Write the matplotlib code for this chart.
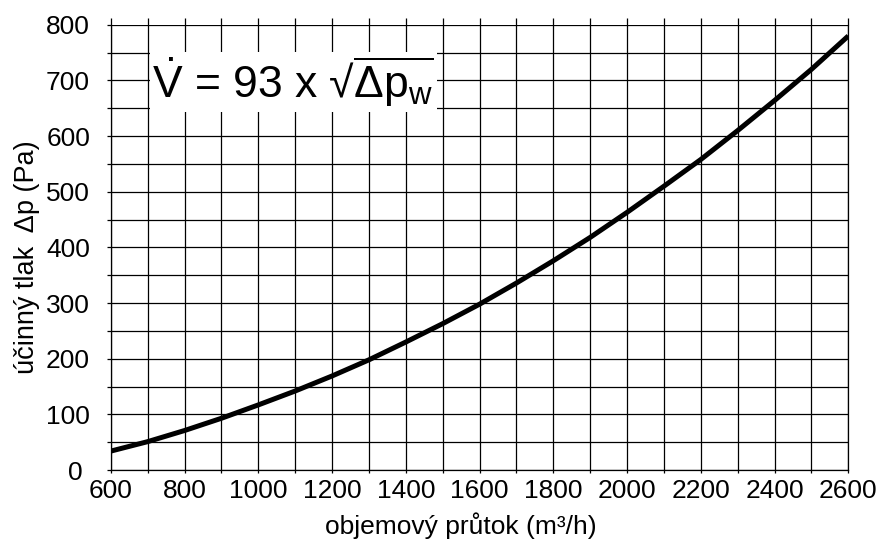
import matplotlib
matplotlib.use("Agg")
import matplotlib.pyplot as plt
from matplotlib.ticker import MultipleLocator

# průtok (m3/h) a odečtený účinný tlak (Pa)
prutok = [600, 700, 800, 900, 1000, 1100, 1200, 1300, 1400, 1500, 1600,
          1700, 1800, 1900, 2000, 2100, 2200, 2300, 2400, 2500, 2600]
tlak = [34, 51, 71, 93, 117, 142, 169, 198, 230, 263, 298,
        336, 376, 418, 463, 510, 558, 610, 664, 720, 780]

x_ticks = [600, 800, 1000, 1200, 1400, 1600, 1800, 2000, 2200, 2400, 2600]
y_ticks = [0, 100, 200, 300, 400, 500, 600, 700, 800]
y_labels = ['0 ', '100', '200', '300', '400', '500', '600', '700', '800']

plt.rcParams['font.family'] = ['Liberation Sans', 'DejaVu Sans']
plt.rcParams['mathtext.fontset'] = 'custom'
plt.rcParams['mathtext.rm'] = 'Liberation Sans'
plt.rcParams['mathtext.it'] = 'Liberation Sans'

fig = plt.figure(figsize=(8.8, 5.39), dpi=100)
ax = fig.add_axes([0.126, 0.128, 0.838, 0.826])

ax.plot(prutok, tlak, color='black', lw=3.6, solid_capstyle='butt', zorder=5)

ax.set_xlim(600, 2600)
ax.set_ylim(0, 800)
ax.set_xticks(x_ticks)
ax.set_yticks(y_ticks)
ax.set_yticklabels(y_labels)
ax.xaxis.set_minor_locator(MultipleLocator(100))
ax.yaxis.set_minor_locator(MultipleLocator(50))
ax.grid(True, which='both', color='black', lw=0.9)

# tiky
ax.tick_params(axis='y', which='both', direction='out', length=3, width=0.9,
               labelsize=19, pad=12)
ax.tick_params(axis='x', which='both', direction='out', length=2.5, width=0.9,
               labelsize=19, pad=4, top=True, labeltop=False)
for t in ax.xaxis.get_major_ticks() + ax.xaxis.get_minor_ticks():
    t.tick2line.set_markersize(5)
for s in ax.spines.values():
    s.set_linewidth(0.9)
ax.spines['top'].set_visible(False)

ax.set_xlabel('objemový průtok (m³/h)', fontsize=19)
ax.set_ylabel('účinný tlak  Δp (Pa)', fontsize=19.5)
ax.xaxis.set_label_coords(0.475, -0.094)
ax.yaxis.set_label_coords(-0.096, 0.479)

ax.text(712, 698, r'$\dot{\mathrm{V}}$ = 93 x √$\overline{\Delta\mathrm{p_w}}$ ',
        fontsize=32, va='center', ha='left', zorder=4,
        bbox=dict(facecolor='white', edgecolor='none', pad=2))

fig.savefig('out.png', dpi=100)
